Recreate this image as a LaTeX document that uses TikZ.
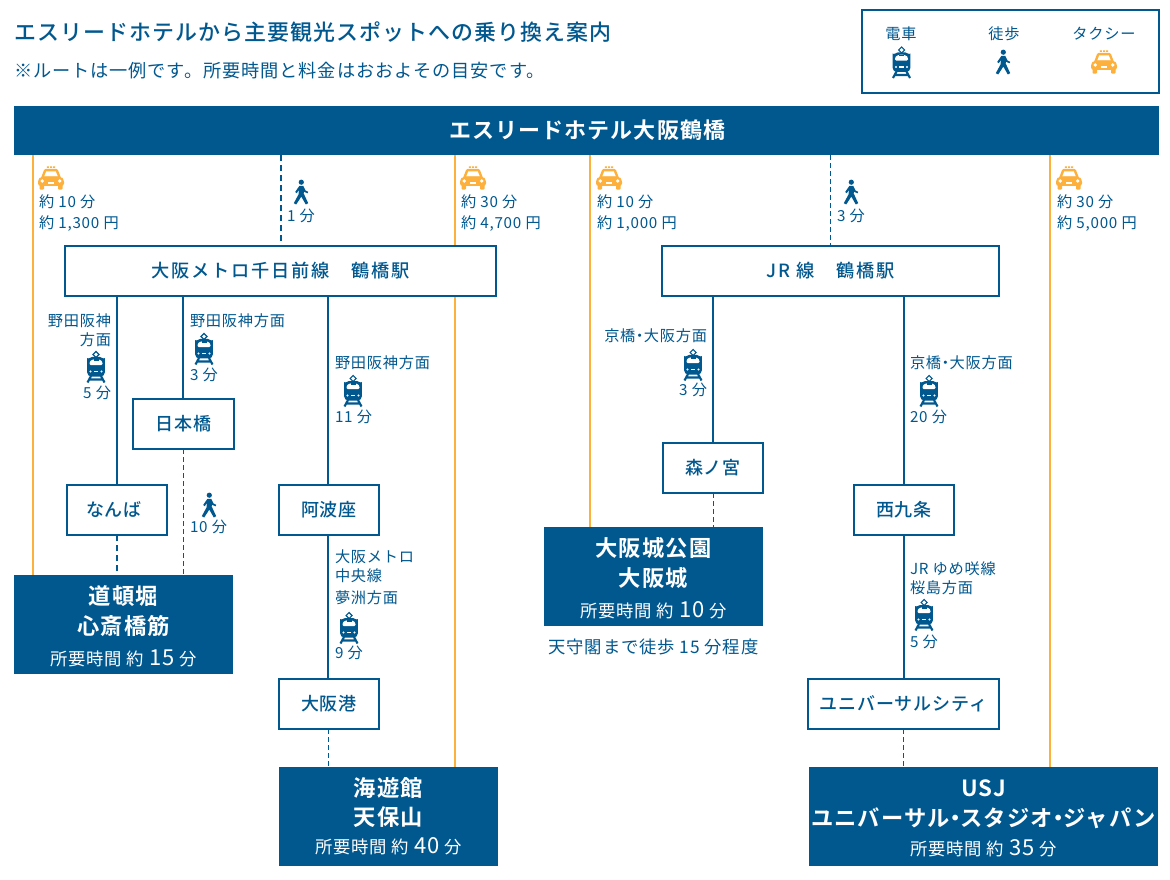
\documentclass[tikz,border=0pt]{standalone}
\usepackage{fontspec}
\usetikzlibrary{backgrounds}
\setmainfont{Noto Sans CJK JP}
\newfontfamily\jpreg[LetterSpace=5]{Noto Sans CJK JP}
\newfontfamily\jpmedwide[LetterSpace=10]{Noto Sans CJK JP Medium}
\newfontfamily\jpmed[LetterSpace=5]{Noto Sans CJK JP Medium}
\newfontfamily\jpbold[LetterSpace=5]{Noto Sans CJK JP Bold}
\newcommand{\nd}{\kern-.22em ・\kern-.22em }
\newcommand{\ndb}{\kern-.26em ・\kern-.26em }
\definecolor{navy}{HTML}{00588F}
\definecolor{cab}{HTML}{FDB03C}
\tikzset{
  x=.75pt,y=-.75pt,
  lab/.style={inner sep=0,outer sep=0,text=navy,font=\jpreg\fontsize{11.4}{13}\selectfont,text height=11pt,text depth=1.1pt},
  labw/.style={lab,anchor=west},
  labe/.style={lab,anchor=east},
  note/.style={lab,font=\jpreg\fontsize{13}{15}\selectfont,text height=12.6pt,text depth=1.3pt},
  sub/.style={lab,anchor=west,font=\jpreg\fontsize{13.65}{15}\selectfont,text height=13.2pt,text depth=1.4pt},
  ttl/.style={lab,anchor=west,font=\jpmed\fontsize{16.45}{18}\selectfont,text height=15.9pt,text depth=1.6pt},
  stn/.style 2 args={draw=navy,fill=white,line width=1.5pt,inner sep=0,outer sep=0,minimum width=#1*.75pt,minimum height=#2*.75pt,text=navy,font=\jpmed\fontsize{13.5}{15}\selectfont},
  stnwide/.style={font=\jpmedwide\fontsize{13.65}{15}\selectfont},
  dst/.style 2 args={fill=navy,inner sep=0,outer sep=0,minimum width=#1*.75pt,minimum height=#2*.75pt},
  dname/.style={inner sep=0,outer sep=0,text=white,font=\jpbold\fontsize{16.7}{18}\selectfont,text height=16.2pt,text depth=1.7pt},
  dtime/.style={inner sep=0,outer sep=0,text=white,font=\jpreg\fontsize{13}{14}\selectfont,text height=12.6pt,text depth=1.3pt},
  solidline/.style={draw=navy,line width=1.5pt},
  taxiline/.style={draw=cab,line width=1.5pt},
  walkthick/.style={draw=navy,line width=1.5pt,dash pattern=on 4.5pt off 3pt},
  walkthin/.style={draw=navy,line width=.75pt,dash pattern=on 3.75pt off 2.25pt},
  train/.pic={
    \draw[navy,line width=.8] (0,-15.5)--(3,-12.5)--(0,-9.5)--(-3,-12.5)--cycle;
    \fill[navy,rounded corners=3] (-8.8,9.5)--(-8.8,-5) .. controls (-8.8,-7.5) and (-4,-10) .. (0,-10) .. controls (4,-10) and (8.8,-7.5) .. (8.8,-5)--(8.8,9.5)--cycle;
    \fill[white,rounded corners=1] (-6.5,-1.8)--(-6.5,-5) .. controls (-5,-6.8) and (-2,-7.8) .. (0,-7.8) .. controls (2,-7.8) and (5,-6.8) .. (6.5,-5)--(6.5,-1.8)--cycle;
    \fill[navy] (-2.5,-7.8)rectangle(2.5,-6.2);
    \fill[white] (-5.5,4.5) circle (1.1) (5.5,4.5) circle (1.1);
    \fill[white] (-2.2,4) rectangle (2.2,5.2);
    \draw[navy,line width=1.6] (-5,9)--(-8.5,15.5) (5,9)--(8.5,15.5) (-6.5,12.5)--(6.5,12.5);
  },
  walker/.pic={
    \fill[navy] (0.3,-9.8) circle (2.6);
    \fill[navy,line join=round] (-1.6,-6.2)--(2.2,-6.2)--(4.5,-1.5)--(7.2,-.2)--(6.6,1.3)--(3,-.2)--(2.6,1.3)--(7.2,11.2)--(4.8,12.5)--(.3,4.6)--(-4.8,12.5)--(-7.2,11.2)--(-2.5,2.5)--(-2,-2)--(-4.3,1.2)--(-5.8,0)--cycle;
  },
  taxi/.pic={
    \fill[cab] (-4.2,-11.7) rectangle (-2.2,-10) (-1,-11.7) rectangle (1,-10) (2.2,-11.7) rectangle (4.2,-10);
    \fill[cab,rounded corners=1] (-6.5,-9.2)--(6.5,-9.2)--(10,0)--(-10,0)--cycle;
    \fill[white] (-4.8,-6.5)--(4.8,-6.5)--(6.8,-1.5)--(-6.8,-1.5)--cycle;
    \fill[cab,rounded corners=2] (-13,8)--(-13,1.5)--(-10,-1.3)--(10,-1.3)--(13,1.5)--(13,8)--cycle;
    \fill[cab,rounded corners=.8] (-11.5,6) rectangle (-7,11.7) (7,6) rectangle (11.5,11.7);
    \fill[white] (-8.7,3) circle (1.9) (8.7,3) circle (1.9);
    \fill[white] (-3,4.2) rectangle (3,5.6);
  }
}
\begin{document}
\begin{tikzpicture}
\useasboundingbox (0,0) rectangle (1170,880);
\foreach \c in {33,117,183,281,328,455,590,713,830,904,1050}{\coordinate (x\c) at (\c,0);}
% heading
\node[ttl] (title) at (14,31) {エスリードホテルから主要観光スポットへの乗り換え案内};
\node[sub] (subtitle) at (14,70) {※ルートは一例です。所要時間と料金はおおよその目安です。};
% legend
\node[draw=navy,line width=1.5pt,fill=white,inner sep=0,minimum width=297*.75pt,minimum height=83*.75pt] (legend) at (1010.5,51.5) {};
\node[lab] (lgtrain) at (901,33) {電車};
\node[lab] (lgwalk) at (1004,33) {徒歩};
\node[lab] (lgtaxi) at (1104,33) {タクシー};
\pic at (901.5,62.5) {train};
\pic at (1003,62) {walker};
\pic at (1104,62) {taxi};
% hotel
\node[dst={1145}{49},text=white,font=\jpbold\fontsize{16.5}{18}\selectfont] (hotel) at (586.5,130.5) {\kern1pt エスリードホテル大阪鶴橋};
% stations
\node[stn={431}{50},stnwide] (metro) at (280.5,271) {大阪メトロ千日前線　鶴橋駅};
\node[stn={337}{50},stnwide] (jr) at (830.5,271) {JR 線　鶴橋駅};
\node[stn={101}{50}] (nihon) at (183.5,424) {日本橋};
\node[stn={100}{50}] (namba) at (117,510) {なんば\kern4.5pt};
\node[stn={100}{50}] (awaza) at (329,510) {阿波座};
\node[stn={100}{50}] (osakako) at (329,704) {大阪港};
\node[stn={100}{50}] (mori) at (713,468) {森ノ宮};
\node[stn={100}{50}] (nishi) at (904,510) {西九条};
\node[stn={191}{50}] (univ) at (903.5,704) {ユニバーサルシティ};
% destinations
\node[dst={219}{99}] (doton) at (123.5,624.5) {};
\node[dname] (d1a) at (123.5,595) {道頓堀};
\node[dname] (d1b) at (123.5,625) {心斎橋筋};
\node[dtime] (d1c) at (123.5,658) {所要時間 約 {\fontsize{16.5}{15}\selectfont 15} 分};
\node[dst={219}{99}] (kaiyu) at (388.5,816.5) {};
\node[dname] (d2a) at (388.5,787) {海遊館};
\node[dname] (d2b) at (388.5,816) {天保山};
\node[dtime] (d2c) at (388.5,846) {所要時間 約 {\fontsize{16.5}{15}\selectfont 40} 分};
\node[dst={219}{99}] (castle) at (653.5,576.5) {};
\node[dname] (d3a) at (653.5,547) {大阪城公園};
\node[dname] (d3b) at (653.5,577) {大阪城};
\node[dtime] (d3c) at (653.5,610) {所要時間 約 {\fontsize{16.5}{15}\selectfont 10} 分};
\node[note] (d3n) at (653.5,646) {天守閣まで徒歩 15 分程度};
\node[dst={349}{99}] (usj) at (983.5,816.5) {};
\node[dname] (d4a) at (983.5,787) {USJ};
\node[dname] (d4b) at (983.5,817) {ユニバーサル\ndb スタジオ\ndb ジャパン};
\node[dtime] (d4c) at (983.5,848) {所要時間 約 {\fontsize{16.5}{15}\selectfont 35} 分};
% connectors
\begin{pgfonlayer}{background}
\fill[white] (0,0) rectangle (1170,880);
\draw[taxiline] (hotel.south -| x33) -- (doton.north -| x33);
\draw[taxiline] (hotel.south -| x455) -- (kaiyu.north -| x455);
\draw[taxiline] (hotel.south -| x590) -- (castle.north -| x590);
\draw[taxiline] (hotel.south -| x1050) -- (usj.north -| x1050);
\draw[walkthick] (hotel.south -| x281) -- (metro.north -| x281);
\draw[walkthin] (hotel.south -| x830) -- (jr.north -| x830);
\draw[solidline] (metro.south -| x117) -- (namba.north -| x117);
\draw[solidline] (metro.south -| x183) -- (nihon.north -| x183);
\draw[solidline] (metro.south -| x328) -- (awaza.north -| x328);
\draw[solidline] (awaza.south -| x328) -- (osakako.north -| x328);
\draw[walkthick] (namba.south -| x117) -- (doton.north -| x117);
\draw[walkthin] (nihon.south -| x183) -- (doton.north -| x183);
\draw[walkthin] (osakako.south -| x328) -- (kaiyu.north -| x328);
\draw[solidline] (jr.south -| x713) -- (mori.north -| x713);
\draw[walkthin] (mori.south -| x713) -- (castle.north -| x713);
\draw[solidline] (jr.south -| x904) -- (nishi.north -| x904);
\draw[solidline] (nishi.south -| x904) -- (univ.north -| x904);
\draw[walkthin] (univ.south) -- (usj.north -| univ.south);
\end{pgfonlayer}
% taxis
\pic at (51,178) {taxi};
\node[labw] (t1a) at (39,201) {約 10 分};
\node[labw] (t1b) at (39,222) {約 1,300 円};
\pic at (473,178) {taxi};
\node[labw] (t2a) at (461,201) {約 30 分};
\node[labw] (t2b) at (461,222) {約 4,700 円};
\pic at (609,178) {taxi};
\node[labw] (t3a) at (597,201) {約 10 分};
\node[labw] (t3b) at (597,222) {約 1,000 円};
\pic at (1069,178) {taxi};
\node[labw] (t4a) at (1057,201) {約 30 分};
\node[labw] (t4b) at (1057,222) {約 5,000 円};
% walkers
\pic at (301,192) {walker};
\node[labw] (w1) at (287,215) {1 分};
\pic at (851,192) {walker};
\node[labw] (w2) at (837,215) {3 分};
\pic at (209,505) {walker};
\node[labw] (w3) at (190,526) {10 分};
% trains
\node[labe] (r1a) at (111,320) {野田阪神};
\node[labe] (r1b) at (111,339) {方面};
\pic at (96,367) {train};
\node[labe] (r1c) at (111,392) {5 分};
\node[labw] (r2a) at (190,320) {野田阪神方面};
\pic at (204,349) {train};
\node[labw] (r2c) at (190,374) {3 分};
\node[labw] (r3a) at (335,362) {野田阪神方面};
\pic at (353,391) {train};
\node[labw] (r3c) at (335,416) {11 分};
\node[labw] (r4a) at (335,556) {大阪メトロ};
\node[labw] (r4b) at (335,575) {中央線};
\node[labw] (r4d) at (335,597) {夢洲方面};
\pic at (349,628) {train};
\node[labw] (r4c) at (335,652) {9 分};
\node[labe] (r5a) at (707,335) {京橋\nd 大阪方面};
\pic at (693,365) {train};
\node[labe] (r5c) at (707,389) {3 分};
\node[labw] (r6a) at (910,362) {京橋\nd 大阪方面};
\pic at (929,391) {train};
\node[labw] (r6c) at (910,416) {20 分};
\node[labw] (r7a) at (910,568) {JR ゆめ咲線};
\node[labw] (r7b) at (910,587) {桜島方面};
\pic at (924,615) {train};
\node[labw] (r7c) at (910,641) {5 分};
\end{tikzpicture}
\end{document}
